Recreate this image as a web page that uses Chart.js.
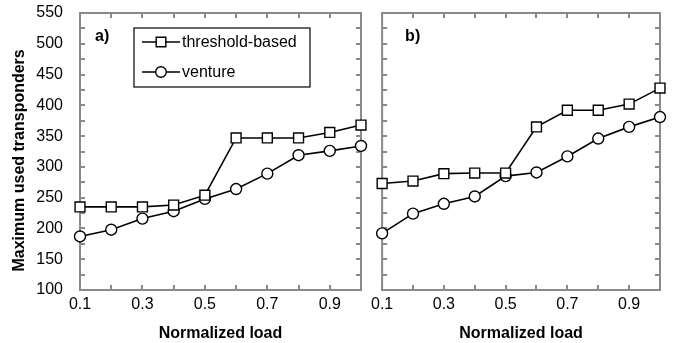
<!DOCTYPE html>
<html>
<head>
<meta charset="utf-8">
<style>
  html, body { margin: 0; padding: 0; background: #fff; }
  #wrap { position: relative; width: 676px; height: 343px; overflow: hidden; }
  canvas { position: absolute; top: 0; }
  #chartA { left: 0; }
  #chartB { left: 366px; }
</style>
</head>
<body>
<div id="wrap">
  <canvas id="chartA" width="370" height="343"></canvas>
  <canvas id="chartB" width="310" height="343"></canvas>
</div>
<script src="https://cdn.jsdelivr.net/npm/chart.js"></script>
<script>
// Normalized load (x values)
const loads = [0.1, 0.2, 0.3, 0.4, 0.5, 0.6, 0.7, 0.8, 0.9, 1.0];

// Panel a)
const thresholdA = [235, 235, 235, 238, 254, 347, 347, 347, 356, 368];
const ventureA = [187, 198, 216, 228, 248, 264, 289, 319, 326, 334];

// Panel b)
const thresholdB = [273, 277, 289, 290, 290, 365, 392, 392, 402, 428];
const ventureB = [192, 224, 240, 252, 285, 291, 317, 346, 365, 381];

// Labelled ticks
const xLabels = ['0.1', '0.3', '0.5', '0.7', '0.9'];
const yLabels = ['100', '150', '200', '250', '300', '350', '400', '450', '500', '550'];

const seriesNames = ['threshold-based', 'venture'];

const FONT = 'Arial, "Liberation Sans", sans-serif';
const AXIS_GRAY = '#8a8a8a';

function toPoints(vals) {
    return vals.map((v, i) => ({ x: loads[i], y: v }));
}

function makeDatasets(thr, ven) {
    return [
        {
            label: seriesNames[0],
            data: toPoints(thr),
            borderColor: '#000',
            borderWidth: 1.6,
            pointStyle: 'rect',
            pointRadius: 7,
            pointBackgroundColor: '#fff',
            pointBorderColor: '#000',
            pointBorderWidth: 1.4,
            clip: false
        },
        {
            label: seriesNames[1],
            data: toPoints(ven),
            borderColor: '#000',
            borderWidth: 1.6,
            pointStyle: 'circle',
            pointRadius: 5.5,
            pointBackgroundColor: '#fff',
            pointBorderColor: '#000',
            pointBorderWidth: 1.4,
            clip: false
        }
    ];
}

// Box around the plot with small inward tick marks on all sides
const framePlugin = {
    id: 'frame',
    beforeDatasetsDraw(chart) {
        const { ctx, chartArea: a, scales } = chart;
        ctx.save();
        ctx.strokeStyle = AXIS_GRAY;
        ctx.lineWidth = 2;
        ctx.strokeRect(a.left, a.top, a.right - a.left, a.bottom - a.top);
        ctx.beginPath();
        const len = 5;
        scales.y.ticks.forEach(t => {
            const y = Math.round(scales.y.getPixelForValue(t.value));
            ctx.moveTo(a.left, y); ctx.lineTo(a.left + len, y);
            ctx.moveTo(a.right, y); ctx.lineTo(a.right - len, y);
        });
        scales.x.ticks.forEach(t => {
            const x = Math.round(scales.x.getPixelForValue(t.value));
            ctx.moveTo(x, a.bottom); ctx.lineTo(x, a.bottom - len);
            ctx.moveTo(x, a.top); ctx.lineTo(x, a.top + len);
        });
        ctx.stroke();

        // panel tag
        const tag = chart.options.plugins.frame;
        ctx.fillStyle = '#000';
        ctx.font = 'bold 16px ' + FONT;
        ctx.textBaseline = 'alphabetic';
        ctx.fillText(tag.text, a.left + tag.dx, a.top + tag.dy);
        ctx.restore();
    }
};

// Legend box with line + marker samples
const boxLegend = {
    id: 'boxLegend',
    afterDatasetsDraw(chart) {
        const opts = chart.options.plugins.boxLegend;
        if (!opts || !opts.show) return;
        const { ctx } = chart;
        ctx.save();
        ctx.strokeStyle = '#000';
        ctx.lineWidth = 1.2;
        ctx.fillStyle = '#fff';
        ctx.fillRect(134, 28, 176, 59);
        ctx.strokeRect(134, 28, 176, 59);
        const rows = [42, 72];
        chart.data.datasets.forEach((ds, i) => {
            const y = rows[i];
            ctx.strokeStyle = '#000';
            ctx.lineWidth = 1.6;
            ctx.beginPath();
            ctx.moveTo(142, y);
            ctx.lineTo(180, y);
            ctx.stroke();
            ctx.fillStyle = '#fff';
            ctx.lineWidth = 1.4;
            Chart.helpers.drawPoint(ctx, {
                pointStyle: ds.pointStyle,
                radius: ds.pointStyle === 'rect' ? 6.8 : 5.3,
                rotation: 0,
                borderWidth: 1.4
            }, 161, y);
            ctx.fillStyle = '#000';
            ctx.font = '16px ' + FONT;
            ctx.textBaseline = 'middle';
            ctx.fillText(ds.label, 182, y + 1);
        });
        ctx.restore();
    }
};

function makeOptions(isLeft) {
    return {
        responsive: false,
        animation: false,
        layout: {
            padding: isLeft
                ? { left: 10, top: 13, right: 9, bottom: 0 }
                : { left: 0, top: 13, right: 16, bottom: 0 }
        },
        plugins: {
            legend: { display: false },
            tooltip: { enabled: false },
            frame: isLeft ? { text: 'a)', dx: 15, dy: 28 } : { text: 'b)', dx: 23, dy: 28 },
            boxLegend: { show: isLeft }
        },
        scales: {
            x: {
                type: 'linear',
                min: 0.1,
                max: 1.0,
                grid: { display: false, drawTicks: false, tickLength: 0 },
                border: { display: false },
                ticks: {
                    stepSize: 0.1,
                    autoSkip: false,
                    maxRotation: 0,
                    padding: 5,
                    color: '#000',
                    font: { family: FONT, size: 16 },
                    callback: v => {
                        const s = (Math.round(v * 10) / 10).toFixed(1);
                        return xLabels.includes(s) ? s : '';
                    }
                },
                title: {
                    display: true,
                    text: 'Normalized load',
                    color: '#000',
                    padding: { top: 0, bottom: 0 },
                    font: { family: FONT, size: 16, weight: 'bold' }
                },
                afterFit: s => { s.height = 53; }
            },
            y: {
                min: 100,
                max: 550,
                grid: { display: false, drawTicks: false, tickLength: 0 },
                border: { display: false },
                ticks: {
                    display: isLeft,
                    stepSize: 25,
                    autoSkip: false,
                    padding: 17,
                    color: '#000',
                    font: { family: FONT, size: 16 },
                    callback: v => yLabels.includes(String(v)) ? String(v) : ''
                },
                title: {
                    display: isLeft,
                    // trailing spaces push the rotated title a little lower, as in the original
                    text: 'Maximum used transponders    ',
                    color: '#000',
                    padding: { top: 0, bottom: 0 },
                    font: { family: FONT, size: 16, weight: 'bold' }
                },
                afterFit: s => {
                    s.width = isLeft ? 70 : 14;
                    s.paddingTop = 8;
                    s.paddingBottom = 8;
                }
            }
        }
    };
}

new Chart(document.getElementById('chartA'), {
    type: 'line',
    data: { datasets: makeDatasets(thresholdA, ventureA) },
    options: makeOptions(true),
    plugins: [framePlugin, boxLegend]
});

new Chart(document.getElementById('chartB'), {
    type: 'line',
    data: { datasets: makeDatasets(thresholdB, ventureB) },
    options: makeOptions(false),
    plugins: [framePlugin]
});
</script>
</body>
</html>
